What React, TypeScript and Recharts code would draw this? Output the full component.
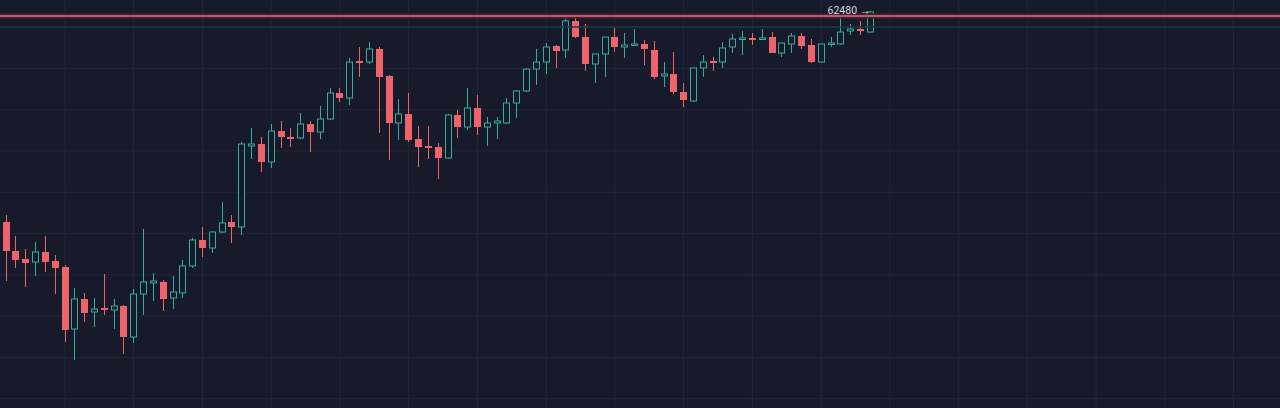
import { ComposedChart, Bar, XAxis, YAxis, CartesianGrid, ReferenceLine, ReferenceDot } from "recharts";

// candle OHLC (oldest first)
const opens = [
  57279, 56577, 56384, 56311, 56553, 56335, 56190, 54689, 55415, 55100,
  55197, 55149, 55246, 54495, 55536, 55803, 55827, 55439, 55561, 56214,
  56844, 56650, 57037, 57279, 57158, 59119, 59168, 58732, 59482, 59337,
  59313, 59652, 59458, 59773, 60402, 60281, 61177, 61153, 61468, 60814,
  59676, 59894, 59289, 59119, 59095, 58829, 59870, 59579, 60039, 59579,
  59676, 59676, 60160, 60451, 60983, 61153, 61540, 61444, 62146, 61758,
  61105, 61347, 61758, 61516, 61565, 61589, 61444, 60814, 60862, 60427,
  60209, 61008, 61177, 61153, 61516, 61710, 61734, 61710, 61758, 61371,
  61589, 61782, 61565, 61153, 61589, 61589, 61904, 61952, 61879,
];
const highs = [
  57449, 56940, 56626, 56795, 56940, 56480, 56238, 55682, 55561, 55439,
  56020, 55415, 55270, 55657, 57110, 56045, 55875, 55972, 56359, 56892,
  57158, 57061, 57764, 57449, 59216, 59555, 59337, 59652, 59725, 59555,
  59918, 59725, 60088, 60523, 60523, 61250, 61516, 61637, 61516, 60838,
  60257, 60402, 59604, 59604, 59192, 59894, 59991, 60523, 60354, 59821,
  59821, 60281, 60475, 61008, 61468, 61613, 61565, 62218, 62242, 62073,
  61347, 61758, 61976, 61855, 61952, 61686, 61661, 61153, 61395, 60645,
  61008, 61322, 61274, 61637, 61831, 61904, 61855, 61952, 61879, 61613,
  61855, 61855, 61710, 61589, 61758, 62242, 62073, 62146, 62388,
];
const lows = [
  55851, 56166, 55706, 55972, 56069, 55536, 54374, 53938, 54858, 54737,
  55028, 54689, 54084, 54350, 55028, 55367, 55125, 55173, 55439, 56166,
  56432, 56529, 57013, 56771, 56965, 58805, 58490, 58587, 59071, 59095,
  59289, 58974, 59289, 59749, 60185, 60112, 60790, 61105, 59434, 58780,
  59265, 59216, 58611, 58805, 58320, 58805, 59313, 59507, 59386, 59119,
  59289, 59652, 59797, 60427, 60596, 60862, 61008, 61250, 61734, 60935,
  60645, 60790, 61395, 61250, 61540, 61080, 60741, 60548, 60378, 60063,
  60185, 60790, 60935, 61008, 61371, 61322, 61565, 61686, 61371, 61274,
  61371, 61468, 61129, 61129, 61516, 61565, 61807, 61807, 61855,
];
const closes = [
  56577, 56359, 56287, 56553, 56311, 56166, 54665, 55415, 55076, 55173,
  55149, 55246, 54495, 55536, 55827, 55851, 55415, 55585, 56214, 56844,
  56650, 57037, 57255, 57158, 59168, 59168, 58732, 59482, 59337, 59289,
  59652, 59458, 59773, 60402, 60281, 61153, 61153, 61468, 60790, 59676,
  59894, 59265, 59095, 59071, 58829, 59870, 59579, 60039, 59579, 59676,
  59725, 60160, 60451, 60983, 61153, 61516, 61419, 62146, 61758, 61105,
  61347, 61758, 61516, 61565, 61589, 61468, 60790, 60862, 60427, 60233,
  61008, 61153, 61129, 61492, 61710, 61734, 61710, 61734, 61371, 61613,
  61782, 61540, 61153, 61589, 61613, 61879, 61952, 61904, 62364,
];

const priceGrid = [53000, 54000, 55000, 56000, 57000, 58000, 59000, 60000, 61000, 62000];
const timeGrid = [6, 13, 20, 27, 34, 41, 48, 55, 62, 69, 76, 83, 90, 97, 104, 111, 118, 125];
const alertPrice = 62267;
const lastLabel = "62480";

const BG = "#161a2b";
const UP = "#34ae9b";
const DOWN = "#ef636a";

const candles = opens.map((o, i) => ({
  i,
  open: o,
  high: highs[i],
  low: lows[i],
  close: closes[i],
}));

const Candle = (props: any) => {
  const { x, y, width, height, payload } = props;
  const { open, high, low, close } = payload;
  const k = height / (high - low);
  const cx = Math.round(x + width / 2) + 0.5;
  const yO = y + (high - open) * k;
  const yC = y + (high - close) * k;
  const top = Math.min(yO, yC);
  const bot = Math.max(yO, yC);
  const w = 7;
  const left = cx - w / 2;
  if (close >= open) {
    return (
      <g>
        <line x1={cx} x2={cx} y1={y} y2={top} stroke={UP} strokeWidth={1} />
        <line x1={cx} x2={cx} y1={bot} y2={y + height} stroke={UP} strokeWidth={1} />
        <rect x={left + 0.5} y={top} width={w - 1} height={Math.max(bot - top, 1.5)} fill={BG} stroke={UP} strokeWidth={1} />
      </g>
    );
  }
  return (
    <g>
      <line x1={cx} x2={cx} y1={y} y2={y + height} stroke={DOWN} strokeWidth={1} />
      <rect x={left} y={top} width={w} height={Math.max(bot - top, 2)} fill={DOWN} />
    </g>
  );
};

const LastLabel = (props: any) => {
  const vb = props.viewBox || {};
  const cx = vb.x + (vb.width || 0) / 2;
  const cy = vb.y + (vb.height || 0) / 2;
  return (
    <text x={cx} y={cy + 3} textAnchor="end" fill="#d3d6e0" fontSize={10.5} fontFamily="Roboto, sans-serif">
      {lastLabel} →
    </text>
  );
};

export default function App() {
  const last = candles[candles.length - 1];
  return (
    <div style={{ position: "absolute", left: 0, top: 0, width: 1280, height: 408, background: BG, overflow: "hidden" }}>
      <ComposedChart width={1280} height={408} data={candles} margin={{ top: 0, right: 0, bottom: 0, left: 0 }}>
        <CartesianGrid stroke="#212738" strokeWidth={1} horizontalValues={priceGrid} verticalValues={timeGrid} />
        <XAxis dataKey="i" type="number" domain={[-0.611, 129.73]} allowDataOverflow hide />
        <YAxis type="number" domain={[52776, 62654]} allowDataOverflow hide />
        <ReferenceLine y={62000} stroke="#173a40" strokeWidth={1.5} />
        <ReferenceLine y={alertPrice} stroke="#4a2031" strokeWidth={5} />
        <ReferenceLine y={alertPrice} stroke="#e46c76" strokeWidth={1.6} />
        <Bar
          dataKey={(d: any) => [d.low, d.high]}
          barSize={7}
          shape={<Candle />}
          isAnimationActive={false}
        />
        <ReferenceDot
          x={last.i}
          y={last.high}
          r={1}
          fill="transparent"
          stroke="none"
          ifOverflow="visible"
          label={<LastLabel />}
        />
      </ComposedChart>
    </div>
  );
}
